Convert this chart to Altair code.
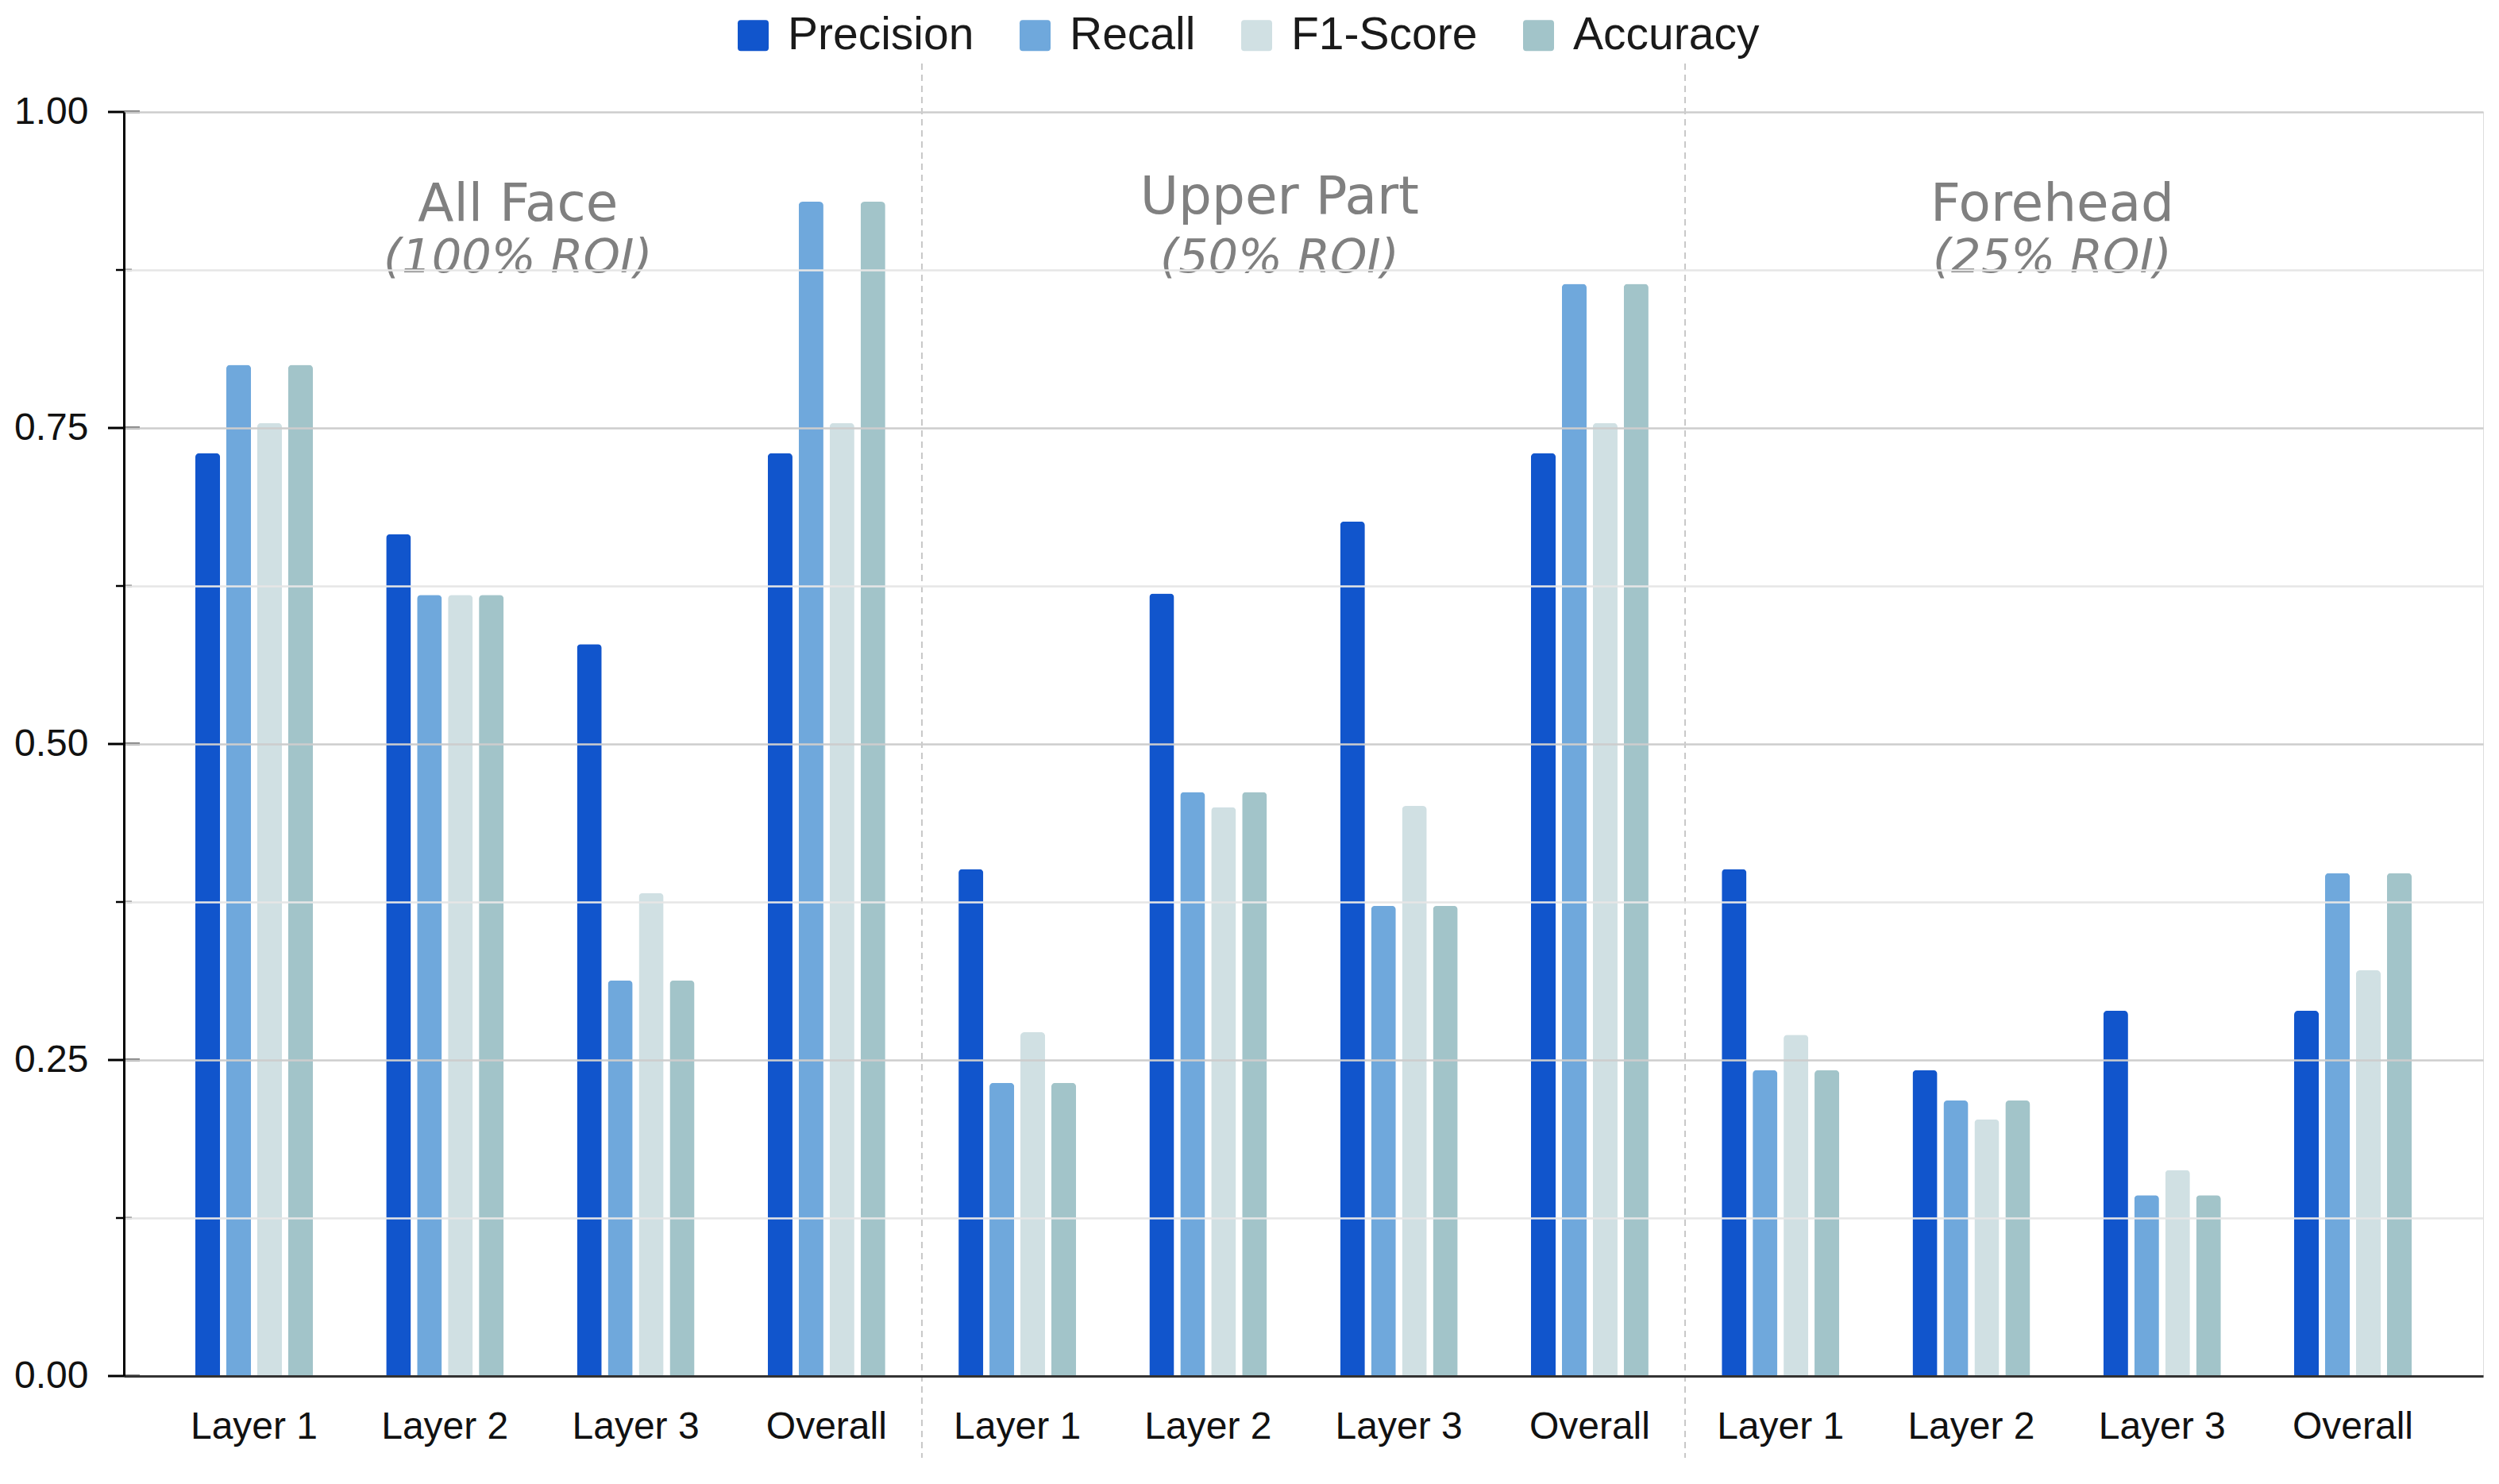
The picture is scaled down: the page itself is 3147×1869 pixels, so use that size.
import altair as alt
import pandas as pd

groups = ["All Face", "Upper Part", "Forehead"]
subtitles = ["(100% ROI)", "(50% ROI)", "(25% ROI)"]
layers = ["Layer 1", "Layer 2", "Layer 3", "Overall"]
metrics = ["Precision", "Recall", "F1-Score", "Accuracy"]
colors = ["#1155cc", "#6fa8dc", "#d0e0e3", "#a2c4c9"]

# per layer: [Precision, Recall, F1-Score, Accuracy]
all_face = [[0.730, 0.800, 0.754, 0.800],
            [0.666, 0.618, 0.618, 0.618],
            [0.579, 0.313, 0.382, 0.313],
            [0.730, 0.929, 0.754, 0.929]]
upper_part = [[0.401, 0.232, 0.272, 0.232],
              [0.619, 0.462, 0.450, 0.462],
              [0.676, 0.372, 0.451, 0.372],
              [0.730, 0.864, 0.754, 0.864]]
forehead = [[0.401, 0.242, 0.270, 0.242],
            [0.242, 0.218, 0.203, 0.218],
            [0.289, 0.143, 0.163, 0.143],
            [0.289, 0.398, 0.321, 0.398]]

y_tick_values = [0, 0.125, 0.25, 0.375, 0.5, 0.625, 0.75, 0.875, 1.0]
major_ticks = [0, 0.25, 0.5, 0.75, 1.0]
minor_ticks = [0.125, 0.375, 0.625, 0.875]

rows = []
for g, vals in zip(groups, [all_face, upper_part, forehead]):
    for l, vs in zip(layers, vals):
        for m, v in zip(metrics, vs):
            rows.append({"group": g, "layer": l, "cat": f"{g}|{l}", "metric": m, "value": v})
df = pd.DataFrame(rows)
cat_order = [f"{g}|{l}" for g in groups for l in layers]

W, H = 2971, 1592
LABEL_FONT = "Liberation Sans"
TITLE_FONT = "DejaVu Sans"
P_IN, P_OUT = 0.384, 0.3745
STEP = W / (12 - P_IN + 2 * P_OUT)

x_scale = alt.Scale(domain=cat_order, paddingInner=P_IN, paddingOuter=P_OUT)
y_scale = alt.Scale(domain=[0, 1], nice=False, zero=True)


def xenc(**kw):
    return alt.X("cat:N", scale=x_scale, sort=cat_order, title=None, **kw)


def yenc(**kw):
    return alt.Y("value:Q", scale=y_scale, title=None, **kw)


bars = alt.Chart(df).mark_bar(cornerRadiusTopLeft=5, cornerRadiusTopRight=5).encode(
    x=xenc(axis=alt.Axis(
        labelExpr="split(datum.label, '|')[1]", labelAngle=0, labelAlign="center",
        bandPosition=0.5, labelFont=LABEL_FONT,
        labelFontSize=48, labelColor="#111111", labelPadding=64, ticks=False, tickSize=0,
        domainColor="#333333", domainWidth=3, grid=False, zindex=1)),
    y=yenc(axis=alt.Axis(
        values=y_tick_values, format=".2f",
        labelExpr="datum.value % 0.25 == 0 ? datum.label : ''",
        labelFont=LABEL_FONT, labelFontSize=48, labelColor="#111111", labelPadding=45,
        ticks=False, tickSize=0, domainColor="#000000", domainWidth=3, zindex=1,
        grid=True,
        gridColor={"condition": {"test": "datum.value % 0.25 == 0", "value": "#cdcdcd"},
                   "value": "#e6e6e6"},
        gridWidth=2.5)),
    xOffset=alt.XOffset("metric:N", scale=alt.Scale(domain=metrics, paddingInner=0.2),
                        sort=metrics),
    color=alt.Color("metric:N", scale=alt.Scale(domain=metrics, range=colors), sort=metrics,
                    legend=alt.Legend(
                        title=None, orient="none", legendX=764, legendY=-125,
                        direction="horizontal", columns=4,
                        symbolType="M-1,-0.8Q-1,-1,-0.8,-1L0.8,-1Q1,-1,1,-0.8L1,0.8Q1,1,0.8,1L-0.8,1Q-1,1,-1,0.8Z",
                        symbolSize=1521, symbolStrokeWidth=0,
                        labelFont=LABEL_FONT, labelFontSize=57, labelColor="#1a1a1a",
                        labelOffset=15, columnPadding=48, labelLimit=0)),
)

sep_df = pd.DataFrame({"cat": ["Upper Part|Layer 1", "Forehead|Layer 1"]})
separators = alt.Chart(sep_df).mark_rule(
    color="#c8c8c8", strokeWidth=2, strokeDash=[8, 6], xOffset=-0.5 * STEP).encode(
    x=xenc(),
    y=alt.value(-61),
    y2=alt.value(H + 103),
)

major_df = pd.DataFrame({"value": major_ticks})
minor_df = pd.DataFrame({"value": minor_ticks})
major_rules = alt.Chart(major_df).mark_rule(color="#000000", strokeWidth=3).encode(
    y=yenc(), x=alt.value(-20), x2=alt.value(20))
minor_rules = alt.Chart(minor_df).mark_rule(color="#000000", strokeWidth=2.5).encode(
    y=yenc(), x=alt.value(-10), x2=alt.value(10))

title_layers = []
anchors = ["All Face|Layer 2", "Upper Part|Layer 2", "Forehead|Layer 2"]
title_dx = [92, 90, 102]
title_y = [137, 128, 137]
for g, sub, a, ddx, ty in zip(groups, subtitles, anchors, title_dx, title_y):
    tdf = pd.DataFrame({"cat": [a], "title": [g], "sub": [sub]})
    t1 = alt.Chart(tdf).mark_text(font=TITLE_FONT, fontSize=66, color="#808080", dx=ddx,
                                  align="center", baseline="alphabetic").encode(
        x=xenc(), y=alt.value(ty), text="title:N")
    t2 = alt.Chart(tdf).mark_text(font=TITLE_FONT, fontSize=59, fontStyle="italic", dx=ddx,
                                  color="#808080", align="center", baseline="alphabetic").encode(
        x=xenc(), y=alt.value(202), text="sub:N")
    title_layers += [t1, t2]

chart = alt.layer(separators, bars, major_rules, minor_rules, *title_layers).properties(
    width=W, height=H,
    autosize=alt.AutoSizeParams(type="none"),
    padding={"left": 148, "top": 133, "right": 8, "bottom": 120},
).configure_view(stroke=None).configure(background="white")

chart.save("out.html", embed_options={"renderer": "svg", "actions": False})
